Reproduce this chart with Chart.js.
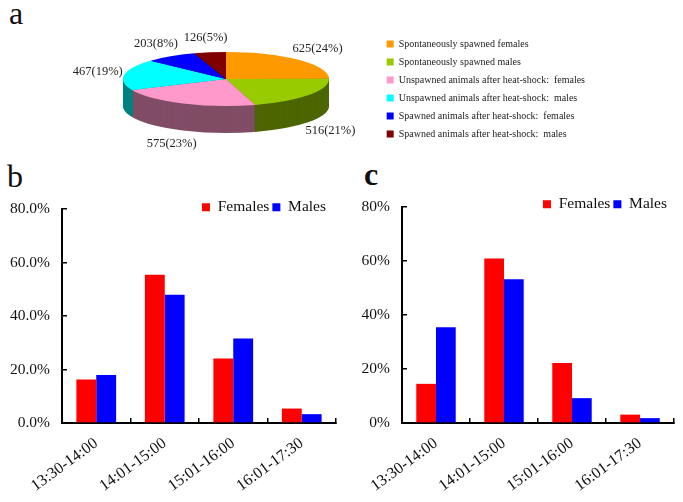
<!DOCTYPE html>
<html><head><meta charset="utf-8">
<script src="https://cdn.jsdelivr.net/npm/chart.js@4.4.0/dist/chart.umd.min.js"></script>
<style>
html,body{margin:0;padding:0;background:#fff;width:683px;height:502px;overflow:hidden;position:relative;font-family:"Liberation Serif",serif;}
.box{position:absolute;}
.letter{position:absolute;font-family:"Liberation Serif",serif;font-size:32px;line-height:32px;color:#111;}
</style></head><body>
<div class="letter" style="left:9px;top:-3px">a</div>
<div class="letter" style="left:7px;top:160px">b</div>
<div class="letter" style="left:364px;top:158px;font-weight:bold">c</div>
<div class="box" style="left:40px;top:20px;width:555px;height:138px"><canvas id="pie"></canvas></div>
<div class="box" style="left:0px;top:160px;width:340px;height:340px"><canvas id="barB"></canvas></div>
<div class="box" style="left:340px;top:160px;width:343px;height:340px"><canvas id="barC"></canvas></div>
<script>
// ---------- data ----------
const pieCategories = [
  'Spontaneously spawned females',
  'Spontaneously spawned males',
  'Unspawned animals after heat-shock:  females',
  'Unspawned animals after heat-shock:  males',
  'Spawned animals after heat-shock:  females',
  'Spawned animals after heat-shock:  males'
];
const pieCounts = [625, 516, 575, 467, 203, 126];
const piePercents = [24, 21, 23, 19, 8, 5];
const pieColors = ['#FF9900', '#99CC00', '#FF99CC', '#00FFFF', '#0000FF', '#800000'];
const pieSideColors = ['#996000', '#4D6600', '#804D66', '#008080', '#000080', '#400000'];

const timeSlots = ['13:30-14:00', '14:01-15:00', '15:01-16:00', '16:01-17:30'];
const seriesNames = ['Females', 'Males'];
const femalesB = [16.3, 55.4, 24.1, 5.4];
const malesB = [17.9, 47.9, 31.6, 3.3];
const femalesC = [14.5, 60.9, 22.2, 3.1];
const malesC = [35.5, 53.2, 9.2, 1.8];
const yTickLabelsB = ['0.0%', '20.0%', '40.0%', '60.0%', '80.0%'];
const yTickLabelsC = ['0%', '20%', '40%', '60%', '80%'];

const FONT = '"Liberation Serif", "Times New Roman", serif';

// ---------- 3D pie plugin ----------
const pie3d = {
  id: 'pie3d',
  beforeDatasetsDraw(chart, args, opts) {
    const ctx = chart.ctx;
    const arcs = chart.getDatasetMeta(0).data;
    if (!arcs.length) return;
    const cx = arcs[0].x, cy = arcs[0].y;
    ctx.save();
    ctx.translate(opts.cx, opts.cy);
    ctx.scale(1, opts.ratio);
    ctx.translate(-cx, -cy);
    for (let d = opts.depth; d >= 1; d--) {
      ctx.save();
      ctx.translate(0, d / opts.ratio);
      arcs.forEach((arc, i) => {
        const side = Object.create(arc);
        side.options = Object.assign({}, arc.options, {backgroundColor: pieSideColors[i], borderWidth: 0});
        side.draw(ctx);
      });
      ctx.restore();
    }
  },
  afterDatasetsDraw(chart, args, opts) {
    const ctx = chart.ctx;
    ctx.restore();
    const arcs = chart.getDatasetMeta(0).data;
    ctx.save();
    ctx.font = '12.5px ' + FONT;
    ctx.fillStyle = '#222';
    ctx.textAlign = 'center';
    ctx.textBaseline = 'middle';
    arcs.forEach((arc, i) => {
      const a = (arc.startAngle + arc.endAngle) / 2;
      const rx = arc.outerRadius, ry = rx * opts.ratio;
      const x = opts.cx + (rx + opts.lx) * Math.cos(a);
      const s = Math.sin(a);
      const y = opts.cy + (ry + opts.ly) * s + (s > 0 ? opts.depth : 0);
      ctx.fillText(pieCounts[i] + '(' + piePercents[i] + '%)', x, y);
    });
    ctx.restore();
  }
};

new Chart(document.getElementById('pie'), {
  type: 'pie',
  data: {
    labels: pieCategories,
    datasets: [{data: pieCounts, backgroundColor: pieColors, borderWidth: 0, radius: 103, clip: false, hoverOffset: 0}]
  },
  options: {
    responsive: true, maintainAspectRatio: false, animation: false,
    events: [],
    plugins: {
      tooltip: {enabled: false},
      legend: {
        position: 'right', align: 'center',
        labels: {boxWidth: 7, boxHeight: 7, padding: 8, color: '#222', font: {family: FONT, size: 10}}
      },
      pie3d: {cx: 186, cy: 59, ratio: 27 / 103, depth: 27, lx: 27, ly: 15}
    }
  },
  plugins: [pie3d]
});

// ---------- bar charts ----------
const legendShift = {
  id: 'legendShift',
  afterLayout(chart, args, opts) {
    const lg = chart.legend;
    if (!lg) return;
    lg.top += opts.dy; lg.bottom += opts.dy;
    lg.left += opts.dx; lg.right += opts.dx;
  }
};

function barChart(id, females, males, yLabels, o) {
  return new Chart(document.getElementById(id), {
    type: 'bar',
    data: {
      labels: timeSlots,
      datasets: [
        {label: seriesNames[0], data: females, backgroundColor: '#FF0000'},
        {label: seriesNames[1], data: males, backgroundColor: '#0000FF'}
      ]
    },
    options: {
      responsive: true, maintainAspectRatio: false, animation: false,
      events: [],
      datasets: {bar: {categoryPercentage: 0.58, barPercentage: 1.0, borderWidth: 0}},
      layout: {padding: {top: o.padTop, right: o.padRight, left: 0, bottom: 0}},
      plugins: {
        tooltip: {enabled: false},
        legend: {
          position: 'top', align: 'end',
          labels: {boxWidth: 8, boxHeight: 8, padding: 3, color: '#111', font: {family: FONT, size: 15.5}}
        },
        legendShift: {dx: o.legDx, dy: o.legDy}
      },
      scales: {
        x: {
          grid: {display: true, drawOnChartArea: false, drawTicks: true, tickLength: -5, color: '#000', lineWidth: 1.5, offset: true},
          border: {display: true, color: '#000', width: 2},
          ticks: {minRotation: 36, maxRotation: 36, autoSkip: false, color: '#111', font: {family: FONT, size: 16}, padding: 16},
          afterFit(s) { s.height = 77; }
        },
        y: {
          min: 0, max: 80,
          grid: {display: true, drawOnChartArea: false, drawTicks: true, tickLength: -5, color: '#000', lineWidth: 1.5},
          border: {display: true, color: '#000', width: 2},
          ticks: {stepSize: 20, color: '#111', font: {family: FONT, size: 15.5}, padding: 17,
                  callback: (v, i) => yLabels[i]},
          afterFit(s) { s.width = 62; }
        }
      }
    },
    plugins: [legendShift]
  });
}

barChart('barB', femalesB, malesB, yTickLabelsB, {padTop: 20.5, padRight: 4, legDx: -7, legDy: 16});
barChart('barC', femalesC, malesC, yTickLabelsC, {padTop: 18.5, padRight: 9, legDx: -4, legDy: 15});
</script>
</body></html>
